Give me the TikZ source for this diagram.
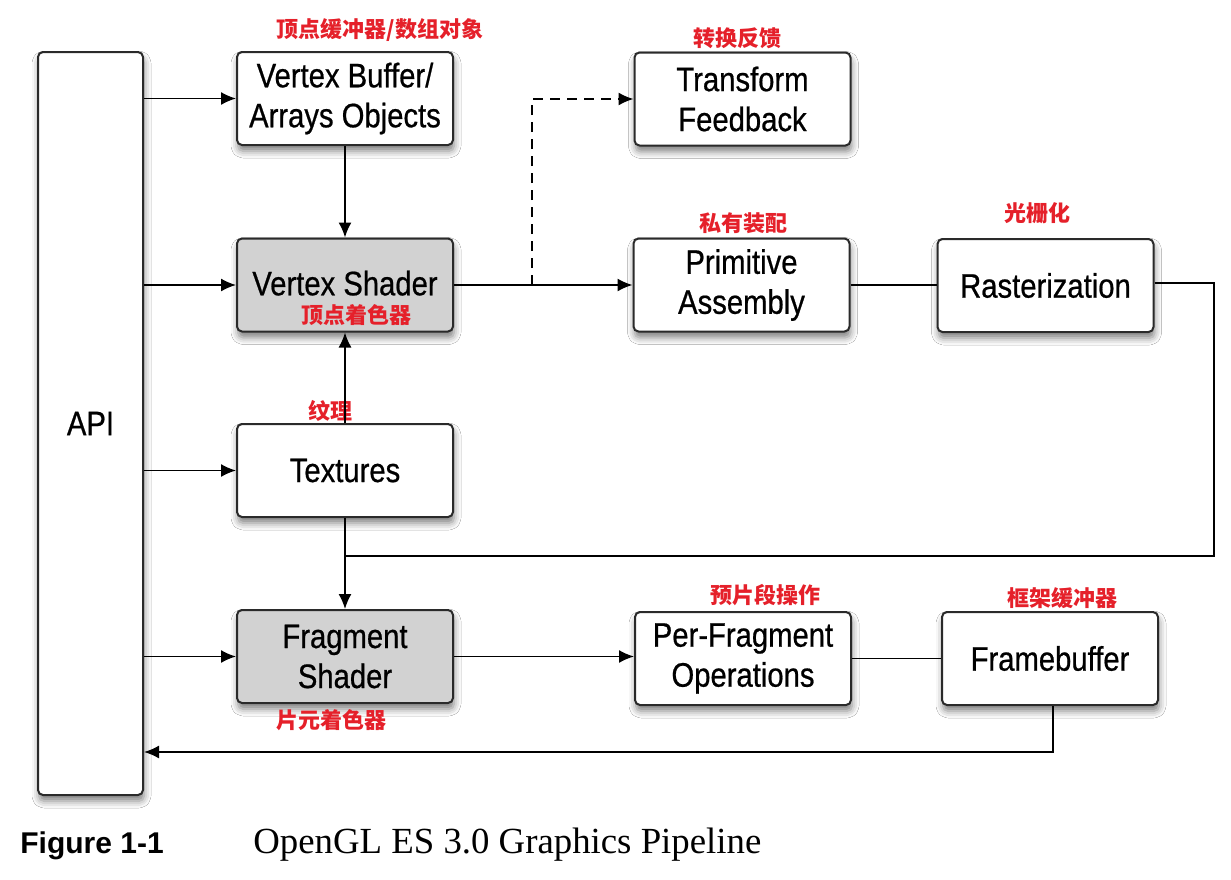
\documentclass[tikz,border=0pt]{standalone}
\usepackage{fontspec}
\setmainfont{Liberation Sans}
\newfontfamily\boxfont{Liberation Sans}[FakeStretch=0.86,FakeBold=0.6]
\newfontfamily\capserif{Liberation Serif}
\newfontfamily\cjk{Noto Sans CJK SC}
\usetikzlibrary{arrows.meta,shadows.blur}
\definecolor{lbl}{HTML}{E5202A}
\definecolor{edge}{HTML}{2A2A2A}
\tikzset{
  stage/.style={draw=edge, line width=1pt, rounded corners=2.5pt, fill=white,
    minimum width=108pt, minimum height=46.5pt, align=center, inner sep=0pt,
    font=\boxfont\fontsize{17}{20}\selectfont,
    blur shadow={shadow xshift=0.5pt, shadow yshift=-3pt, shadow blur radius=3.5pt, shadow opacity=50}},
  shaded/.style={stage, fill=gray!35},
  cn/.style={text=lbl, font=\cjk\bfseries\fontsize{11}{12}\selectfont, inner sep=0pt},
  conn/.style={draw=black, line width=0.8pt},
  arr/.style={conn, -{Latex[length=7.5pt,width=6.5pt]}},
}
\begin{document}
\begin{tikzpicture}[x=0.5pt,y=-0.5pt]
\useasboundingbox (0,0) rectangle (1231,879);
\fill[white] (0,0) rectangle (1231,879);

% nodes
\node[stage, minimum width=52.5pt, minimum height=371.5pt] (api) at (90.5,423.5) {API};
\node[stage] (vb) at (345,98.5) {Vertex Buffer/\\Arrays Objects};
\node[shaded] (vs) at (345,285) {\raisebox{2pt}{Vertex Shader}};
\node[stage] (tx) at (345,470.5) {Textures};
\node[shaded] (fs) at (345,656.5) {Fragment\\Shader};
\node[stage] (tf) at (742.5,99) {Transform\\Feedback};
\node[stage] (pa) at (741.5,285) {Primitive\\Assembly};
\node[stage] (ra) at (1045.5,285.5) {Rasterization};
\node[stage] (pf) at (743,658.5) {Per-Fragment\\Operations};
\node[stage] (fb) at (1050,658.5) {Framebuffer};

% Chinese labels
\node[cn] (l1) at (380,30) {顶点缓冲器/数组对象};
\node[cn] (l2) at (737,38) {转换反馈};
\node[cn] (l3) at (743,223) {私有装配};
\node[cn] (l4) at (1037,213) {光栅化};
\node[cn] (l5) at (356,315) {顶点着色器};
\node[cn] (l6) at (330,411) {纹理};
\node[cn] (l7) at (765,595) {预片段操作};
\node[cn] (l8) at (1062,598) {框架缓冲器};
\node[cn] (l9) at (331,720) {片元着色器};

% coordinates
\coordinate (dj) at (532,285);
\coordinate (c1) at (1214,556);
\coordinate (c2) at (1053,752);

% connectors
\draw[arr] (api.east |- vb.west) -- (vb.west);
\draw[arr] (api.east |- vs.west) -- (vs.west);
\draw[arr] (api.east |- tx.west) -- (tx.west);
\draw[arr] (api.east |- fs.west) -- (fs.west);
\draw[arr] (vb.south) -- (vs.north);
\draw[arr] (tx.north) -- (vs.south);
\draw[arr] (vs.east) -- (pa.west);
\draw[arr, dashed, dash pattern=on 5pt off 3.5pt] (dj) |- (tf.west);
\draw[conn] (pa.east) -- (ra.west |- pa.east);
\draw[conn] (ra.east |- 0,283) -| (c1) -- (tx.south |- c1);
\draw[arr] (tx.south) -- (fs.north);
\draw[arr] (fs.east) -- (pf.west |- fs.east);
\draw[conn] (pf.east) -- (fb.west);
\draw[arr] (c2 |- fb.south) -- (c2) -- (api.east |- c2);

% caption
\node[anchor=base west, inner sep=0pt, font=\bfseries\fontsize{15}{18}\selectfont] (fig) at (20,853) {Figure 1-1};
\node[anchor=base west, inner sep=0pt, font=\capserif\fontsize{18.4}{20}\selectfont] (cap) at (253,853) {OpenGL ES 3.0 Graphics Pipeline};
\end{tikzpicture}
\end{document}
